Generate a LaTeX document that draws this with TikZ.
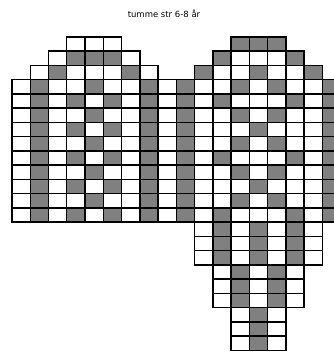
\documentclass[tikz,border=0pt]{standalone}
\usepackage{fontspec}
\setmainfont{DejaVu Sans}
\usepackage{tikz}

\begin{document}
\begin{tikzpicture}[x=1pt, y=-1pt,
        cellw/.style={draw=black, fill=white, line width=1.4pt},
        cellg/.style={draw=black, fill=gray, line width=1.4pt}]
            \useasboundingbox (0,0) rectangle (334,354);
            \clip (0,0) rectangle (334,354);
            \node (title) at (164,14) {\fontsize{8.5}{10}\selectfont tumme str 6-8 år};
            \begin{scope}[shift={(12,36.8)}, x=18.26pt, y=-14.25pt]
            % rows: row/first/last
            \foreach \r/\a/\b in {0/3/5, 0/12/14, 1/2/6, 1/11/15, 2/1/7, 2/10/16,
                    13/10/16, 14/10/16, 15/10/16, 16/11/15, 17/11/15, 18/11/15,
                    19/12/14, 20/12/14, 21/12/14}
                \foreach \c in {\a,...,\b}
                    \draw[cellw] (\c,\r) rectangle ++(1,1);
            \foreach \r in {3,...,12}
                \foreach \c in {0,...,17}
                    \draw[cellw] (\c,\r) rectangle ++(1,1);
            % tops
            \foreach \r/\cols in {0/{12,13,14}, 1/{3,4,5,11,15}, 2/{2,6,10,13,16}}
                \foreach \c in \cols
                    \draw[cellg] (\c,\r) rectangle ++(1,1);
            % hands
            \foreach \r in {3,...,12}
                \foreach \c in {1,7,9,17}
                    \draw[cellg] (\c,\r) rectangle ++(1,1);
            \foreach \r in {3,5,...,11}
                \foreach \c in {4,12,14}
                    \draw[cellg] (\c,\r) rectangle ++(1,1);
            \foreach \r in {4,6,...,12}
                \foreach \c in {3,5}
                    \draw[cellg] (\c,\r) rectangle ++(1,1);
            \foreach \r in {4,8,12}
                \foreach \c in {11,15}
                    \draw[cellg] (\c,\r) rectangle ++(1,1);
            \foreach \r in {6,10}
                \draw[cellg] (13,\r) rectangle ++(1,1);
            % thumb
            \foreach \r/\cols in {13/{11,13,15}, 14/{11,13,15}, 15/{11,13,15},
                    16/{12,14}, 17/{12,14}, 18/{12,14}, 19/{13}, 20/{13}, 21/{13}}
                \foreach \c in \cols
                    \draw[cellg] (\c,\r) rectangle ++(1,1);
            \end{scope}
        \end{tikzpicture}
\end{document}
